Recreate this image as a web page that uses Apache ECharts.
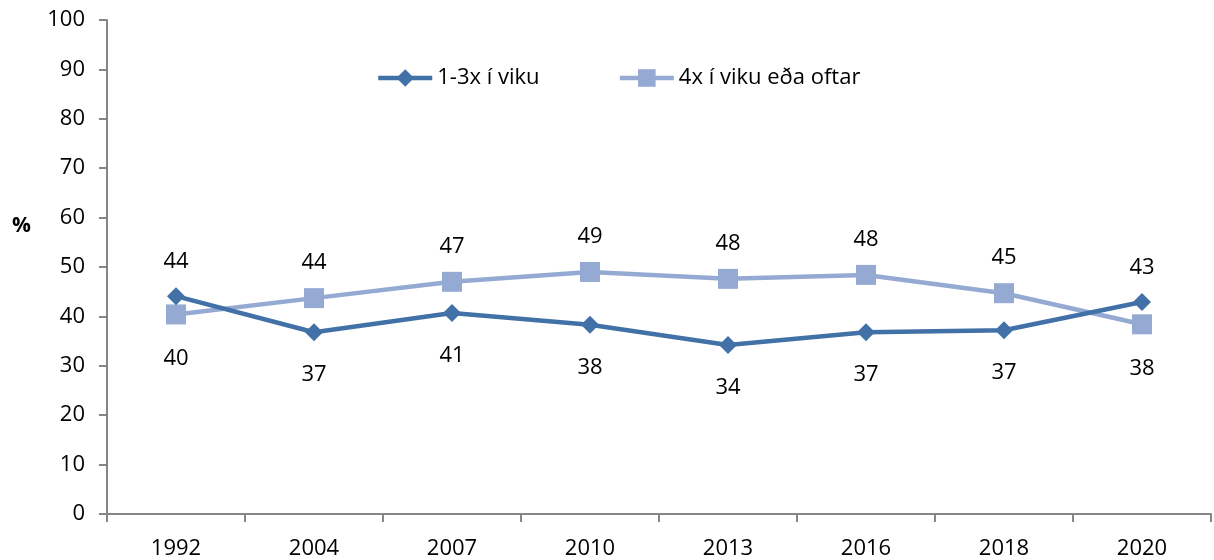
<!DOCTYPE html>
<html>
<head>
<meta charset="utf-8">
<script src="https://cdn.jsdelivr.net/npm/echarts@6/dist/echarts.min.js"></script>
<style>
  html, body { margin: 0; padding: 0; background: #fff; }
  #chart01 { width: 1214px; height: 560px; }
</style>
</head>
<body>
<div id="chart01"></div>
<script>
var years = ['1992', '2004', '2007', '2010', '2013', '2016', '2018', '2020'];
var oneToThree = [44.1, 36.8, 40.7, 38.3, 34.2, 36.8, 37.2, 42.9];
var fourPlus = [40.4, 43.7, 47.0, 49.0, 47.6, 48.4, 44.7, 38.4];
var yTicks = [0, 10, 20, 30, 40, 50, 60, 70, 80, 90, 100];

var darkBlue = '#4271a8';
var lightBlue = '#95aad3';
var fontFam = '"Open Sans", "Noto Sans", sans-serif';

// label goes above the higher line, below the lower one
function withLabels(vals, other) {
  return vals.map(function (v, i) {
    var up = v >= other[i];
    return {
      value: v,
      label: { position: up ? 'top' : 'bottom', distance: up ? 14 : 23 }
    };
  });
}

var chartDom = document.getElementById('chart01');
var myChart = echarts.init(chartDom);
var option;

option = {
  animation: false,
  textStyle: { fontFamily: fontFam },
  grid: { left: 107, right: 3, top: 20, bottom: 46 },
  legend: {
    left: 371,
    top: 62,
    itemWidth: 54,
    itemHeight: 22,
    itemGap: 78,
    lineStyle: { width: 4.5 },
    textStyle: { fontSize: 22, color: '#000', fontFamily: fontFam },
    data: ['1-3x í viku', '4x í viku eða oftar']
  },
  graphic: [
    {
      type: 'text',
      left: 12,
      top: 216,
      style: { text: '%', fontSize: 21, fontWeight: 'bold', fill: '#000', fontFamily: fontFam }
    }
  ],
  xAxis: {
    type: 'category',
    data: years,
    boundaryGap: true,
    axisLine: { lineStyle: { color: '#868686', width: 2 } },
    axisTick: { show: true, length: 8, lineStyle: { color: '#868686', width: 2 } },
    axisLabel: { fontSize: 22, color: '#000', margin: 24, fontFamily: fontFam },
    splitLine: { show: false }
  },
  yAxis: {
    type: 'value',
    min: yTicks[0],
    max: yTicks[yTicks.length - 1],
    interval: 10,
    axisLine: { show: true, lineStyle: { color: '#868686', width: 2 } },
    axisTick: { show: true, length: 8, lineStyle: { color: '#868686', width: 2 } },
    axisLabel: { fontSize: 22, color: '#000', margin: 22, fontFamily: fontFam },
    splitLine: { show: false }
  },
  series: [
    {
      name: '1-3x í viku',
      type: 'line',
      data: withLabels(oneToThree, fourPlus),
      symbol: 'diamond',
      symbolSize: 18,
      itemStyle: { color: darkBlue },
      lineStyle: { color: darkBlue, width: 4.5 },
      label: {
        show: true,
        fontSize: 22,
        color: '#000',
        fontFamily: fontFam,
        formatter: function (p) { return Math.round(p.value); }
      },
      z: 3
    },
    {
      name: '4x í viku eða oftar',
      type: 'line',
      data: withLabels(fourPlus, oneToThree),
      symbol: 'rect',
      symbolSize: 20,
      itemStyle: { color: lightBlue },
      lineStyle: { color: lightBlue, width: 4.5 },
      label: {
        show: true,
        fontSize: 22,
        color: '#000',
        fontFamily: fontFam,
        formatter: function (p) { return Math.round(p.value); }
      },
      z: 2
    }
  ]
};

option && myChart.setOption(option);
</script>
</body>
</html>
